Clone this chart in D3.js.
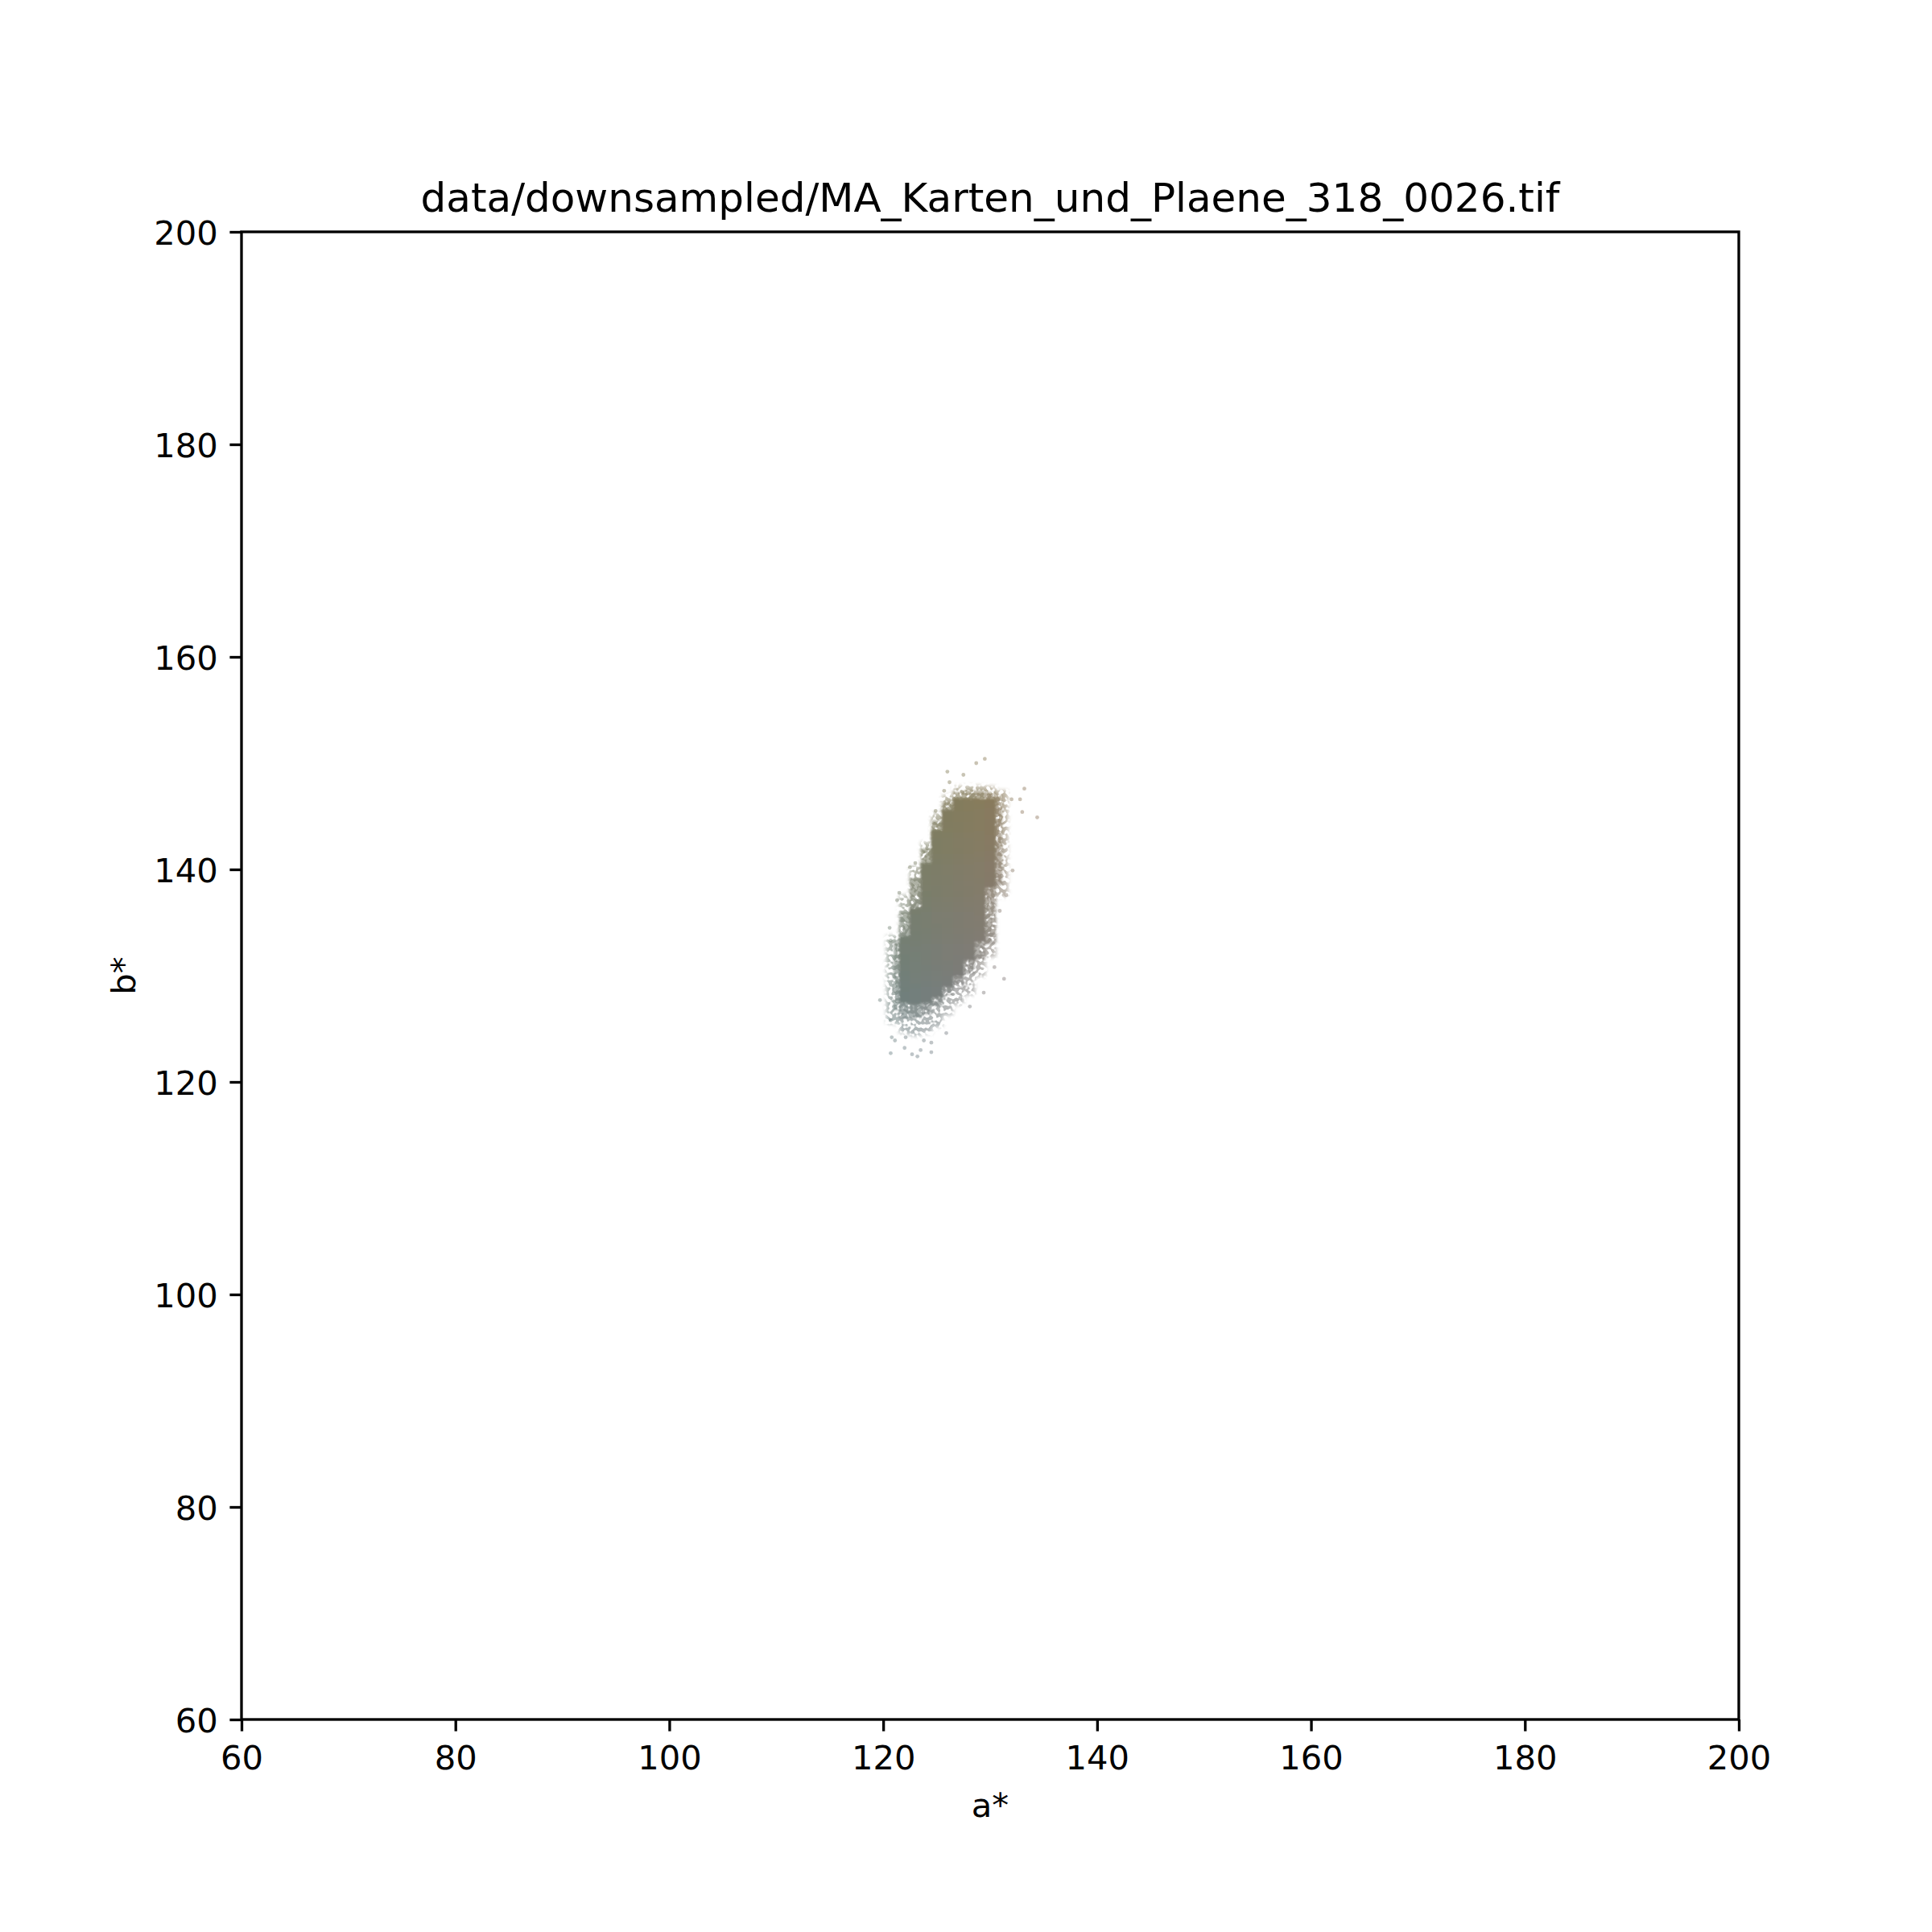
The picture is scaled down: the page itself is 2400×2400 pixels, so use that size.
<!DOCTYPE html>
<html>
<head>
<meta charset="utf-8">
<script src="https://cdn.jsdelivr.net/npm/d3@7"></script>
<style>
  html, body { margin: 0; padding: 0; background: #fff; }
  svg { display: block; }
  text { font-family: "DejaVu Sans", sans-serif; fill: #000; }
</style>
</head>
<body>
<svg id="chart" width="2400" height="2400"></svg>
<script>
// ---------------- DATA ----------------
const titleText = "data/downsampled/MA_Karten_und_Plaene_318_0026.tif";
const xTicks = [60, 80, 100, 120, 140, 160, 180, 200];
const yTicks = [60, 80, 100, 120, 140, 160, 180, 200];

// dense core: one column per integer a*, with b* extent
const coreA    = [122,   123,   124,   125,   126,   127,   128,   129,   130];
const coreLow  = [127.5, 127.3, 127.5, 128.0, 129.0, 130.0, 131.5, 133.2, 138.3];
const coreHigh = [133.7, 136.4, 140.6, 143.7, 145.6, 146.7, 146.7, 146.7, 146.7];

// sparse fringe around the core: a* span and b* extent
const haloA0   = [120.3, 121.5, 122.5, 123.5, 124.5, 125.5, 126.5, 127.5, 128.5, 129.5, 130.5];
const haloA1   = [121.5, 122.5, 123.5, 124.5, 125.5, 126.5, 127.5, 128.5, 129.5, 130.5, 131.6];
const haloLow  = [125.5, 124.6, 124.4, 124.6, 125.2, 126.3, 127.3, 128.2, 130.0, 131.8, 137.5];
const haloHigh = [133.8, 137.6, 140.3, 142.6, 145.3, 147.0, 147.8, 147.9, 147.9, 147.8, 147.4];

// denser inner fringe hugging the core
const innerA0   = [121.0, 121.5, 122.5, 123.5, 124.5, 125.5, 126.5, 127.5, 128.5, 129.5, 130.5];
const innerA1   = [121.5, 122.5, 123.5, 124.5, 125.5, 126.5, 127.5, 128.5, 129.5, 130.5, 131.1];
const innerLow  = [126.8, 126.0, 126.0, 126.4, 127.2, 128.2, 129.0, 130.2, 131.5, 133.0, 138.5];
const innerHigh = [133.2, 136.0, 139.2, 142.0, 144.6, 146.4, 147.3, 147.4, 147.4, 147.3, 147.0];

// isolated outlier pixels (a*, b*)
const outA = [128.7,129.5,126.0,127.5,126.2,125.7,133.2,134.4,133.0,132.8,132.0,124.9,123.0,122.5,121.5,121.3,120.6,120.7,131.5,132.1,130.9,130.4,131.3,129.4,128.1,127.2,119.7,125.9,124.5,124.5,120.7,122.0,122.7,123.2,123.5,121.1,120.8,120.7,122.1,123.8];
const outB = [150.0,150.4,149.2,148.9,148.2,147.4,147.6,144.9,145.4,146.6,146.6,145.5,140.6,140.2,137.8,137.1,134.5,133.3,137.6,139.9,136.1,130.8,129.7,128.4,127.1,127.9,127.7,124.6,123.7,122.8,122.7,123.2,122.6,122.4,123.0,123.9,124.2,125.8,124.2,123.9];

(function () {
// ---------------- LAYOUT ----------------
const svg = d3.select("#chart");
const mL = 300, mR = 2160, mT = 288, mB = 2136;
const x = d3.scaleLinear().domain([60, 200]).range([mL, mR]);
const y = d3.scaleLinear().domain([60, 200]).range([mB, mT]);
const Lum = 52;
const colorOf = (a, b) => d3.lab(Lum, a - 128, b - 128).formatHex();

const defs = svg.append("defs");
defs.append("clipPath").attr("id", "plotClip")
  .append("rect").attr("x", mL).attr("y", mT)
  .attr("width", mR - mL).attr("height", mB - mT);

// speckle textures for the fringe
function speckle(id, seed, bias, blurSrc) {
  const sp = defs.append("filter").attr("id", id).attr("x", "-10%").attr("y", "-10%")
    .attr("width", "120%").attr("height", "120%");
  sp.append("feGaussianBlur").attr("in", "SourceGraphic").attr("stdDeviation", blurSrc).attr("result", "soft");
  sp.append("feTurbulence").attr("type", "fractalNoise").attr("baseFrequency", 0.22)
    .attr("numOctaves", 1).attr("seed", seed).attr("result", "noise");
  sp.append("feColorMatrix").attr("in", "noise").attr("type", "matrix")
    .attr("values", `0 0 0 0 0  0 0 0 0 0  0 0 0 0 0  9 0 0 0 ${bias}`).attr("result", "mask");
  sp.append("feGaussianBlur").attr("in", "mask").attr("stdDeviation", 0.6).attr("result", "mask2");
  sp.append("feComposite").attr("in", "soft").attr("in2", "mask2").attr("operator", "in");
}
speckle("speckleOuter", 7, -3.9, 2.5);
speckle("speckleInner", 11, -2.9, 1.5);

defs.append("filter").attr("id", "edge").attr("x", "-5%").attr("y", "-5%")
  .attr("width", "110%").attr("height", "110%")
  .append("feGaussianBlur").attr("stdDeviation", 1.5);

const plot = svg.append("g").attr("clip-path", "url(#plotClip)");

function cellsFrom(A0, A1, lo, hi) {
  const cells = [];
  A0.forEach((a0, i) => {
    const a1 = A1[i];
    for (let b = lo[i]; b < hi[i]; b += 0.5) {
      const b1 = Math.min(b + 0.5, hi[i]);
      cells.push({a0, a1, b0: b, b1, c: colorOf((a0 + a1) / 2, (b + b1) / 2)});
    }
  });
  return cells;
}
function drawCells(cells, attrs) {
  const g = plot.append("g");
  Object.entries(attrs).forEach(([k, v]) => g.attr(k, v));
  g.selectAll("rect").data(cells).join("rect")
    .attr("x", d => x(d.a0)).attr("width", d => x(d.a1) - x(d.a0) + 0.6)
    .attr("y", d => y(d.b1)).attr("height", d => y(d.b0) - y(d.b1) + 0.6)
    .attr("fill", d => d.c).attr("shape-rendering", "crispEdges");
}

drawCells(cellsFrom(haloA0, haloA1, haloLow, haloHigh), {filter: "url(#speckleOuter)", opacity: 0.55});
drawCells(cellsFrom(innerA0, innerA1, innerLow, innerHigh), {filter: "url(#speckleInner)", opacity: 0.6});

// outliers
plot.append("g").selectAll("circle").data(outA.map((a, i) => ({a, b: outB[i]}))).join("circle")
  .attr("cx", d => x(d.a)).attr("cy", d => y(d.b)).attr("r", 2.4)
  .attr("fill", d => colorOf(d.a, d.b)).attr("fill-opacity", 0.45);

// dense core
const coreCells = [];
coreA.forEach((a, i) => {
  for (let b = coreLow[i]; b < coreHigh[i]; b += 0.5) {
    const b1 = Math.min(b + 0.5, coreHigh[i]);
    coreCells.push({a0: a - 0.5, a1: a + 0.5, b0: b, b1, c: colorOf(a, (b + b1) / 2)});
  }
});
drawCells(coreCells, {filter: "url(#edge)"});

// ---------------- AXES ----------------
const tickLen = 14.6, sw = 3.33, fs = 41.67;

const xAxis = svg.append("g").attr("transform", `translate(0,${mB})`)
  .call(d3.axisBottom(x).tickValues(xTicks).tickSize(tickLen).tickPadding(14.6).tickFormat(d3.format("d")));
const yAxis = svg.append("g").attr("transform", `translate(${mL},0)`)
  .call(d3.axisLeft(y).tickValues(yTicks).tickSize(tickLen).tickPadding(14.6).tickFormat(d3.format("d")));
[xAxis, yAxis].forEach(g => {
  g.select(".domain").remove();
  g.selectAll(".tick line").attr("stroke", "#000").attr("stroke-width", sw);
  g.selectAll(".tick text").attr("font-family", "DejaVu Sans").attr("font-size", fs).attr("fill", "#000");
});
xAxis.selectAll(".tick text").attr("dy", null).attr("y", 62);
yAxis.selectAll(".tick text").attr("dy", null).attr("y", 15);

// spines
svg.append("rect").attr("x", mL).attr("y", mT)
  .attr("width", mR - mL).attr("height", mB - mT)
  .attr("fill", "none").attr("stroke", "#000").attr("stroke-width", sw);

// labels
svg.append("text").attr("x", (mL + mR) / 2).attr("y", 263)
  .attr("text-anchor", "middle").attr("font-size", 50).text(titleText);
svg.append("text").attr("x", (mL + mR) / 2).attr("y", 2257)
  .attr("text-anchor", "middle").attr("font-size", fs).text("a*");
svg.append("text").attr("transform", `translate(168,${(mT + mB) / 2}) rotate(-90)`)
  .attr("text-anchor", "middle").attr("font-size", fs).text("b*");
})();
</script>
</body>
</html>
